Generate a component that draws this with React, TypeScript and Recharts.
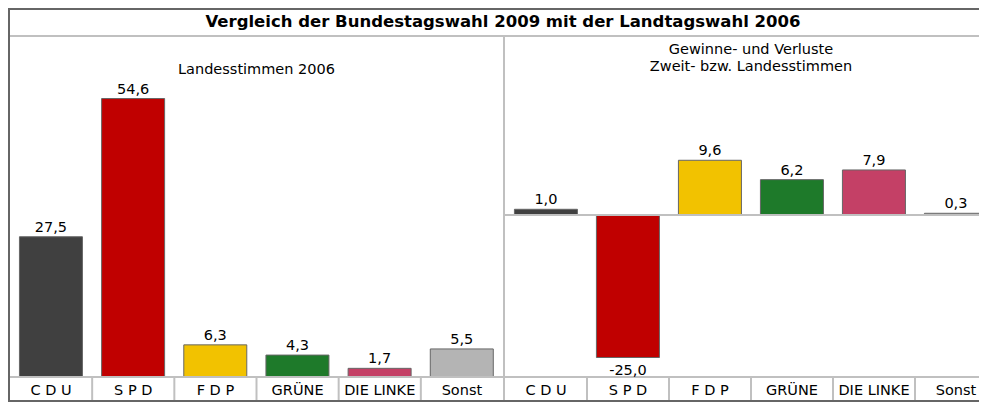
import React from "react";
import { BarChart, Bar, XAxis, YAxis, Cell, LabelList, ReferenceLine } from "recharts";

const categories = ["C D U", "S P D", "F D P", "GRÜNE", "DIE LINKE", "Sonst"];
const landesstimmen2006 = [27.5, 54.6, 6.3, 4.3, 1.7, 5.5];
const gewinneVerluste = [1.0, -25.0, 9.6, 6.2, 7.9, 0.3];
const colors = ["#404040", "#c00000", "#f2c200", "#1e7a2a", "#c44066", "#b4b4b4"];

const title = "Vergleich der Bundestagswahl 2009 mit der Landtagswahl 2006";
const leftSubtitle = ["Landesstimmen 2006"];
const rightSubtitle = ["Gewinne- und Verluste", "Zweit- bzw. Landesstimmen"];

const leftData = categories.map((c, i) => ({ name: c, v: landesstimmen2006[i] }));
const rightData = categories.map((c, i) => ({ name: c, v: gewinneVerluste[i] }));

const FONT = "'DejaVu Sans', Verdana, sans-serif";
const DARK = "#666666";
const LIGHT = "#c0c0c0";
const FS = 14.5;

const CHART_W_LEFT = 493;
const CHART_W_RIGHT = 492;
const CHART_H = 363;
const AXIS_H = 23;

const fmt = (v: number) => v.toFixed(1).replace(".", ",");

const makeTick = (plotWidth: number) => (props: any) => {
  const { x, y, payload, index } = props;
  const band = plotWidth / categories.length;
  const left = x - band / 2;
  return (
    <g>
      {index > 0 && (
        <line x1={left} x2={left} y1={y - 1} y2={y + AXIS_H} stroke={LIGHT} strokeWidth={2} />
      )}
      <text x={x} y={y + 18} textAnchor="middle" fontFamily={FONT} fontSize={FS} fill="#000">
        {payload.value}
      </text>
    </g>
  );
};

const renderLabel = (props: any) => {
  const { x, y, width, height, value } = props;
  const top = Math.min(y, y + height);
  const bottom = Math.max(y, y + height);
  const cx = x + width / 2;
  const neg = value < 0;
  return (
    <text
      x={cx}
      y={neg ? bottom + 17 : top - 5}
      textAnchor="middle"
      fontFamily={FONT}
      fontSize={FS}
      fill="#000"
    >
      {fmt(value)}
    </text>
  );
};

export default function App() {
  return (
    <div style={{ width: 979, height: 395, overflow: "hidden", position: "relative" }}>
      <div style={{ position: "absolute", left: 0, top: 0, width: 990, height: 395 }}>
        {/* title */}
        <div
          style={{
            position: "absolute",
            left: 0,
            top: 4,
            width: 990,
            textAlign: "center",
            fontFamily: FONT,
            fontWeight: "bold",
            fontSize: 16.5,
            lineHeight: "20px",
            color: "#000",
          }}
        >
          {title}
        </div>

        {/* left chart */}
        <div style={{ position: "absolute", left: 2, top: 29 }}>
          <div
            style={{
              position: "absolute",
              left: 0,
              top: 24,
              width: CHART_W_LEFT,
              textAlign: "center",
              fontFamily: FONT,
              fontSize: FS,
              lineHeight: "17px",
              color: "#000",
            }}
          >
            {leftSubtitle.map((s) => (
              <div key={s}>{s}</div>
            ))}
          </div>
          <BarChart
            width={CHART_W_LEFT}
            height={CHART_H}
            data={leftData}
            margin={{ top: 34, right: 0, bottom: 0, left: 0 }}
            barCategoryGap="11.5%"
          >
            <XAxis
              dataKey="name"
              height={AXIS_H}
              interval={0}
              tickLine={false}
              tickSize={0}
              tickMargin={0}
              axisLine={{ stroke: LIGHT, strokeWidth: 2 }}
              tick={makeTick(CHART_W_LEFT)}
            />
            <YAxis hide domain={[0, 60]} allowDataOverflow />
            <Bar dataKey="v" isAnimationActive={false} stroke={DARK} strokeWidth={1}>
              {leftData.map((d, i) => (
                <Cell key={d.name} fill={colors[i]} />
              ))}
              <LabelList dataKey="v" content={renderLabel} />
            </Bar>
          </BarChart>
        </div>

        {/* right chart */}
        <div style={{ position: "absolute", left: 497, top: 29 }}>
          <div
            style={{
              position: "absolute",
              left: 0,
              top: 4,
              width: CHART_W_RIGHT,
              textAlign: "center",
              fontFamily: FONT,
              fontSize: FS,
              lineHeight: "17px",
              color: "#000",
            }}
          >
            {rightSubtitle.map((s) => (
              <div key={s}>{s}</div>
            ))}
          </div>
          <BarChart
            width={CHART_W_RIGHT}
            height={CHART_H}
            data={rightData}
            margin={{ top: 34, right: 0, bottom: 0, left: 0 }}
            barCategoryGap="11.5%"
          >
            <XAxis
              dataKey="name"
              height={AXIS_H}
              interval={0}
              tickLine={false}
              tickSize={0}
              tickMargin={0}
              axisLine={{ stroke: LIGHT, strokeWidth: 2 }}
              tick={makeTick(CHART_W_RIGHT)}
            />
            <YAxis hide domain={[-28.42, 25.26]} allowDataOverflow />
            <ReferenceLine y={0} stroke={LIGHT} strokeWidth={2} />
            <Bar dataKey="v" isAnimationActive={false} stroke={DARK} strokeWidth={1}>
              {rightData.map((d, i) => (
                <Cell key={d.name} fill={colors[i]} />
              ))}
              <LabelList dataKey="v" content={renderLabel} />
            </Bar>
          </BarChart>
        </div>

        {/* frame */}
        <div style={{ position: "absolute", left: 0, top: 0, width: 990, height: 2, background: DARK }} />
        <div style={{ position: "absolute", left: 0, top: 0, width: 2, height: 394, background: DARK }} />
        <div style={{ position: "absolute", left: 0, top: 392, width: 990, height: 2, background: DARK }} />
        <div style={{ position: "absolute", left: 2, top: 27, width: 988, height: 2, background: LIGHT }} />
        <div style={{ position: "absolute", left: 495, top: 29, width: 2, height: 363, background: LIGHT }} />
      </div>
    </div>
  );
}
